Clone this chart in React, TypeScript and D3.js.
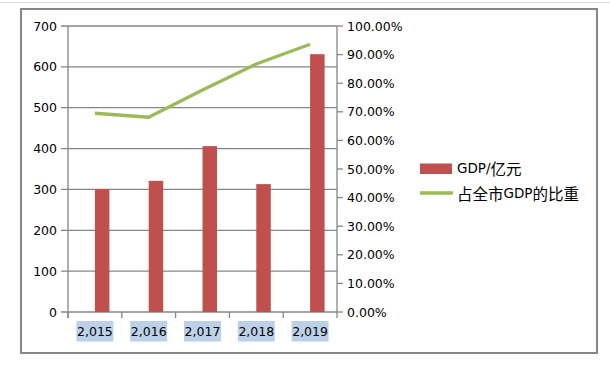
import React from "react";
import * as d3 from "d3";

const years = ["2,015", "2,016", "2,017", "2,018", "2,019"];
const gdp = [301, 321, 406, 313, 631];
const share = [0.695, 0.681, 0.776, 0.867, 0.936];
const leftTicks = [0, 100, 200, 300, 400, 500, 600, 700];
const rightTicks = [0, 0.1, 0.2, 0.3, 0.4, 0.5, 0.6, 0.7, 0.8, 0.9, 1.0];
const legendLabels = ["GDP/亿元", "占全市GDP的比重"];

const BAR = "#C0504D";
const LINE = "#9BBB59";
const GRID = "#868686";
const FONT = "'DejaVu Sans', sans-serif";
const CJK = "'Noto Sans CJK SC', sans-serif";

function MixedText({ text, x, y }: { text: string; x: number; y: number }) {
  const parts = text.match(/[\u4e00-\u9fff]+|[^\u4e00-\u9fff]+/g) || [];
  return (
    <text x={x} y={y} dominantBaseline="central" fontFamily={FONT} fontSize={13.5} fill="#000">
      {parts.map((p, i) =>
        /[\u4e00-\u9fff]/.test(p) ? (
          <tspan key={i} fontFamily={CJK} fontSize={15.5}>{p}</tspan>
        ) : (
          <tspan key={i}>{p}</tspan>
        )
      )}
    </text>
  );
}

export default function App() {
  const left = 68, right = 337, top = 26, bottom = 312;
  const x = d3.scaleBand<string>().domain(years).range([left, right]).padding(0);
  const yL = d3.scaleLinear().domain([0, 700]).range([bottom, top]);
  const yR = d3.scaleLinear().domain([0, 1]).range([bottom, top]);
  const barW = 14.5;
  const cx = (c: string) => (x(c) as number) + x.bandwidth() / 2;
  const line = d3
    .line<number>()
    .x((_, i) => cx(years[i]))
    .y((d) => yR(d));
  const fmtPct = d3.format(".2%");

  return (
    <svg
      width={610}
      height={370}
      style={{ position: "absolute", left: 0, top: 0, background: "#fff" }}
    >
      <line x1={0} x2={610} y1={2.5} y2={2.5} stroke="#dcdcdc" strokeWidth={1} />
      <rect x={21} y={9} width={576} height={344} fill="#fff" stroke={GRID} strokeWidth={2} />

      {/* gridlines */}
      {leftTicks.map((t) => (
        <line key={"g" + t} x1={left - 7} x2={right} y1={yL(t)} y2={yL(t)} stroke={GRID} strokeWidth={1.3} />
      ))}
      {/* left axis */}
      <line x1={left} x2={left} y1={top} y2={bottom + 6} stroke={GRID} strokeWidth={1.3} />
      {leftTicks.map((t) => (
        <text key={"l" + t} x={57} y={yL(t)} textAnchor="end" dominantBaseline="central" fontFamily={FONT} fontSize={12.5} fill="#000">
          {t}
        </text>
      ))}
      {/* right axis */}
      <line x1={right} x2={right} y1={top} y2={bottom + 6} stroke={GRID} strokeWidth={1.3} />
      {rightTicks.map((t) => (
        <g key={"r" + t}>
          <line x1={right} x2={right + 6} y1={yR(t)} y2={yR(t)} stroke={GRID} strokeWidth={1.3} />
          <text x={347} y={yR(t)} dominantBaseline="central" fontFamily={FONT} fontSize={12.5} fill="#000">
            {fmtPct(t)}
          </text>
        </g>
      ))}
      {/* bottom ticks */}
      {years.map((c) => (
        <line key={"bt" + c} x1={x(c) as number} x2={x(c) as number} y1={bottom} y2={bottom + 6} stroke={GRID} strokeWidth={1.3} />
      ))}

      {/* bars */}
      {years.map((c, i) => (
        <rect key={"b" + c} x={cx(c)} y={yL(gdp[i])} width={barW} height={bottom - yL(gdp[i])} fill={BAR} />
      ))}

      {/* line */}
      <path d={line(share) || ""} fill="none" stroke={LINE} strokeWidth={3.3} strokeLinejoin="round" />

      {/* x labels */}
      {years.map((c) => (
        <g key={"xl" + c}>
          <rect x={cx(c) - 18.5} y={321} width={37} height={20.5} fill="#BCD0E8" />
          <text x={cx(c)} y={331.5} textAnchor="middle" dominantBaseline="central" fontFamily={FONT} fontSize={12.5} fill="#000">
            {c}
          </text>
        </g>
      ))}

      {/* legend */}
      <rect x={420} y={163.5} width={32} height={10.5} fill={BAR} />
      <MixedText text={legendLabels[0]} x={457} y={168} />
      <line x1={420} x2={453} y1={193} y2={193} stroke={LINE} strokeWidth={3.3} />
      <MixedText text={legendLabels[1]} x={457} y={193} />
    </svg>
  );
}
